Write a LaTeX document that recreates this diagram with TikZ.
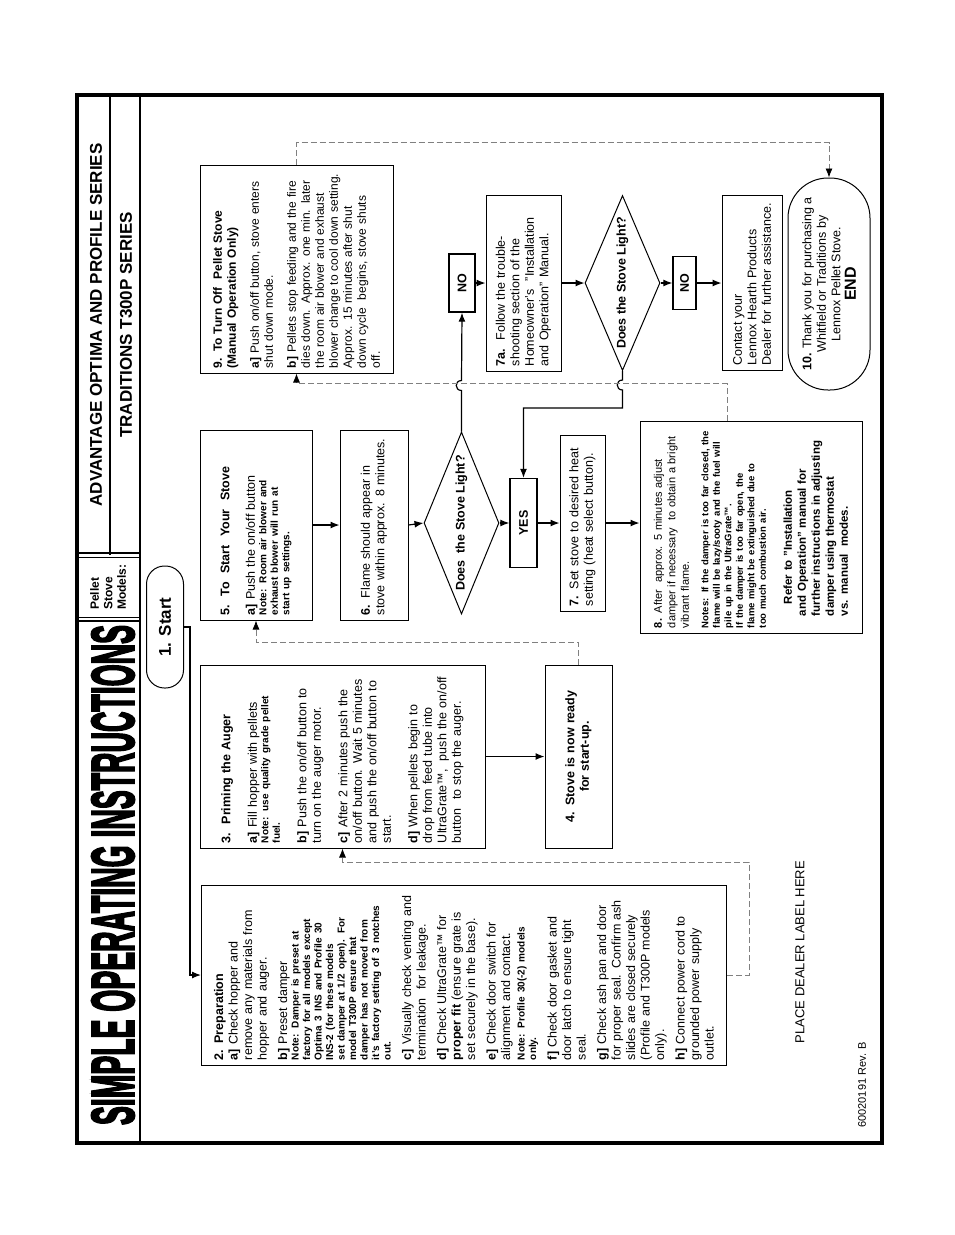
\documentclass[tikz,border=0pt]{standalone}
\usepackage{fontspec}
\setmainfont{Liberation Sans}
\newfontfamily\heavyfont{Liberation Sans Bold}[FakeBold=4]
\usepackage{graphicx}
\usetikzlibrary{shapes.geometric,arrows.meta,calc}

\newcommand{\stovetext}{\fontsize{12.5}{14.5}\selectfont}
\newcommand{\stovenote}{\fontsize{10}{11.5}\selectfont\bfseries}

\tikzset{
  stepbox/.style={draw, line width=1pt, rotate=90, align=left, inner sep=5pt, font=\stovetext},
  decision/.style={draw, diamond, aspect=2.4, line width=1pt, rotate=90, inner sep=0pt, font=\stovetext\bfseries},
  answer/.style={draw, line width=1.4pt, rotate=90, inner sep=0pt, font=\stovetext\bfseries},
  terminal/.style={draw, line width=1pt, rotate=90, align=center, inner sep=2pt, font=\stovetext},
  flow/.style={line width=1.2pt, -{Latex[length=9pt,width=7pt]}},
  dashflow/.style={gray, line width=0.8pt, dash pattern=on 6pt off 3pt, -{Latex[length=9pt,width=7pt,black]}},
}

\begin{document}
\begin{tikzpicture}[x=1pt,y=-1pt]
\useasboundingbox (0,0) rectangle (954,1235);
\draw[line width=3.5pt] (77,95) rectangle (882,1143);
\draw[line width=2.5pt] (140,95) -- (140,1143);
\draw[line width=1.5pt] (110,95) -- (110,555);
\draw[line width=2pt] (78,553) -- (140,553);
\draw[line width=0.8pt] (78,557) -- (140,557);
\draw[line width=0.8pt] (78,617) -- (140,617);
\draw[line width=2pt] (78,621) -- (140,621);

\node[rotate=90, font=\fontsize{17}{20}\selectfont\bfseries] (series1) at (96,325) {ADVANTAGE OPTIMA AND PROFILE SERIES};
\node[rotate=90, font=\fontsize{17}{20}\selectfont\bfseries] (series2) at (126,325) {TRADITIONS T300P SERIES};
\node[rotate=90, align=left, font=\fontsize{12}{13.5}\selectfont\bfseries] (models) at (108,587) {Pellet\\Stove\\Models:};
\node[rotate=90, inner sep=0pt] (title) at (113,875) {\resizebox{500pt}{42pt}{\heavyfont SIMPLE OPERATING INSTRUCTIONS}};

\node[terminal, rounded corners=18pt, minimum width=122pt, minimum height=37pt, font=\fontsize{17}{20}\selectfont\bfseries] (start) at (165,627) {1. Start};

\node[stepbox, text width=170pt, minimum height=525pt] (prep) at (464,975) {%
{\bfseries 2. Preparation}\\
{\bfseries a]} Check hopper and\\
remove any materials from\\
hopper and auger.\par\vspace{6pt}
{\bfseries b]} Preset damper\par
{\stovenote Note: Damper is preset at\\ factory for all models except\\ Optima 3 INS and Profile 30\\ INS-2 (for these models\\ set damper at 1/2 open). For\\ model T300P ensure that\\ damper has not moved from\\ it's factory setting of 3 notches\\ out.\par}\vspace{6pt}
{\bfseries c]} Visually check venting and\\ termination\ \ for leakage.\par\vspace{6pt}
{\bfseries d]} Check UltraGrate™ for\\ {\bfseries proper fit} (ensure grate is\\ set securely in the base).\par\vspace{6pt}
{\bfseries e]} Check door switch for\\ alignment and contact.\par\vspace{3pt}
{\stovenote Note: Profile 30(-2) models\\ only.\par}\vspace{6pt}
{\bfseries f]} Check door gasket and\\ door latch to ensure tight\\ seal.\par\vspace{6pt}
{\bfseries g]} Check ash pan and door\\ for proper seal. Confirm ash\\ slides are closed securely\\ (Profile and T300P models\\ only).\par\vspace{6pt}
{\bfseries h]} Connect power cord to\\ grounded power supply\\ outlet.};

\node[stepbox, text width=173pt, minimum height=285pt] (prime) at (342.5,756.5) {%
{\bfseries 3.\ \ Priming the Auger}\par\vspace{12pt}
{\bfseries a]} Fill hopper with pellets\par
{\stovenote Note: use quality grade pellet\\ fuel.\par}\vspace{12pt}
{\bfseries b]} Push the on/off button to\\ turn on the auger motor.\par\vspace{12pt}
{\bfseries c]} After 2 minutes push the\\ on/off button. Wait 5 minutes\\ and push the on/off button to\\ start.\par\vspace{12pt}
{\bfseries d]} When pellets begin to\\ drop from feed tube into\\ UltraGrate™,\ \ push the on/off\\ button\ \ to stop the auger.};

\node[stepbox, align=center, font=\stovetext\bfseries, text width=173pt, minimum height=67pt] (ready) at (578.5,756.5) {4. Stove is now ready\\ for start-up.};

\node[stepbox, text width=180pt, minimum height=112pt] (startstove) at (256,525) {%
{\bfseries 5.\ \ To\ \ Start\ \ Your\ \ Stove}\par\vspace{11pt}
{\bfseries a]} Push the on/off button\par
{\stovenote Note: Room air blower and\\ exhaust blower will run at\\ start up settings.\par}};

\node[stepbox, text width=180pt, minimum height=68pt] (flame) at (374,525) {{\bfseries 6.} Flame should appear in\\ stove within approx. 8 minutes.};
\node[decision, minimum width=182pt, minimum height=75pt] (light1) at (461.5,523) {Does\ \ the Stove Light?};
\node[answer, minimum width=89pt, minimum height=27pt] (yes) at (523.5,523) {YES};
\node[stepbox, text width=166pt, minimum height=45pt] (heat) at (582.5,523) {{\bfseries 7.} Set stove to desired heat\\ setting (heat select button).};

\node[stepbox, font=\fontsize{11}{13.5}\selectfont, text width=202pt, minimum height=222pt] (adjust) at (751,527) {%
{\bfseries 8.} After\ \ approx. 5 minutes adjust\\ damper if necessary\ \ to obtain a bright\\ vibrant flame.\par\vspace{8pt}
{\fontsize{9.5}{11.5}\selectfont\bfseries Notes: If the damper is too far closed, the\\ flame will be lazy/sooty and the fuel will\\ pile up in the UltraGrate™.\\ If the damper is too far open, the\\ flame might be extinguished due to\\ too much combustion air.\par}\vspace{12pt}
{\fontsize{11.5}{14}\selectfont\bfseries\leftskip=12pt \hspace*{12pt}Refer to "Installation\\ and Operation" manual for\\ further instructions in adjusting\\ damper using thermostat\\ vs. manual\ \ modes.\par}};

\node[stepbox, font=\fontsize{12}{14}\selectfont, text width=198pt, minimum height=193pt] (turnoff) at (296.5,269) {%
{\bfseries 9. To Turn Off\ \ Pellet Stove\\ (Manual Operation Only)}\par\vspace{9pt}
{\bfseries a]} Push on/off button, stove enters\\ shut down mode.\par\vspace{9pt}
{\bfseries b]} Pellets stop feeding and the fire\\ dies down. Approx. one min. later\\ the room air blower and exhaust\\ blower change to cool down setting.\\ Approx. 15 minutes after shut\\ down cycle\ \ begins, stove shuts\\ off.};

\node[answer, minimum width=58pt, minimum height=26pt] (no1) at (462,283) {NO};
\node[stepbox, text width=166pt, minimum height=75pt] (trouble) at (523.5,283) {{\bfseries 7a.}\ \ Follow the trouble-\\ shooting section of the\\ Homeowner's\ \ "Installation\\ and Operation" Manual.};
\node[decision, minimum width=175pt, minimum height=75pt] (light2) at (622.5,283) {Does the Stove Light?};
\node[answer, minimum width=53pt, minimum height=23pt] (no2) at (684.5,283) {NO};
\node[stepbox, text width=165pt, minimum height=60pt] (dealer) at (752,283) {Contact your\\ Lennox Hearth Products\\ Dealer for further assistance.};
\node[terminal, rounded corners=40pt, minimum width=212pt, minimum height=82pt] (finish) at (829,284) {{\bfseries 10.} Thank you for purchasing a\\ Whitfield or Traditions by\\ Lennox Pellet Stove.\\[1pt] {\fontsize{16}{18}\selectfont\bfseries END}};

\node[rotate=90, font=\fontsize{13}{15}\selectfont] (label) at (800,952) {PLACE DEALER LABEL HERE};
\node[rotate=90, font=\fontsize{11}{13}\selectfont] (rev) at (862,1085) {60020191 Rev. B};

\draw[flow] (start.south) -- ++(6,0) |- (prep.north);
\draw[dashflow] (prep.south) -- ++(22,0) -- ++(0,-113) -| (prime.west);
\draw[flow] (prime.south) -- (ready.north);
\draw[dashflow] (ready.east) -- ++(0,-22) -| (startstove.west);
\draw[flow] (startstove.south) -- (flame.north);
\draw[flow] (flame.south) -- (light1.north);
\draw[flow] (light1.south) -- (yes.north);
\draw[flow] (yes.south) -- (heat.north);
\draw[flow] (heat.south) -- (heat.south -| adjust.north);
\draw[flow] (light1.east) -- ++(0,-41) to[out=180,in=180,looseness=1.8] ++(0,-10) -- (no1.west);
\draw[flow] (no1.south) -- (trouble.north);
\draw[flow] (trouble.south) -- (light2.north);
\draw[flow] (light2.west) -- ++(0,9) to[out=180,in=180,looseness=1.8] ++(0,10) -- ++(0,18) -| (yes.east);
\draw[flow] (light2.south) -- (no2.north);
\draw[flow] (no2.south) -- (dealer.north);
\draw[dashflow] ($(adjust.east)+(-24,0)$) -- ++(0,-37) -| (turnoff.west);
\draw[dashflow] (turnoff.east) -- ++(0,-22) -| (finish.east);
\end{tikzpicture}
\end{document}
